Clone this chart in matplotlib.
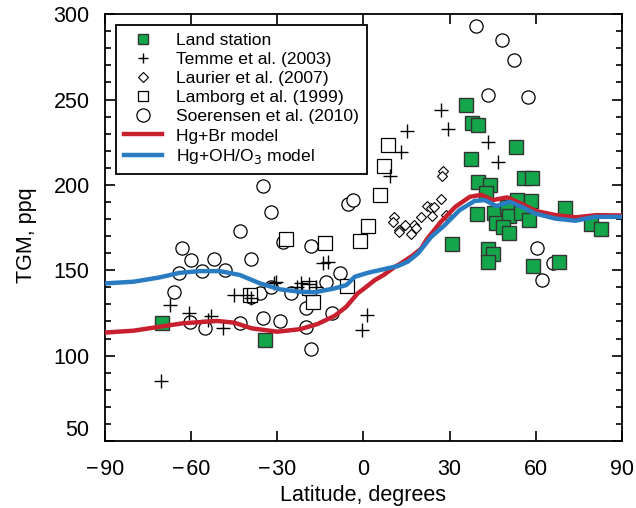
import matplotlib
matplotlib.use("Agg")
import matplotlib.pyplot as plt
from matplotlib.lines import Line2D
from matplotlib.ticker import MultipleLocator

plt.rcParams['font.family'] = ['Liberation Sans', 'DejaVu Sans']

# Land station observations
land_lat = [-70.2, -34.3, 35.8, 37.8, 39.9, 53.1, 37.6, 39.7, 44.0, 42.8, 56.0, 58.8,
            53.3, 58.3, 70.0, 39.6, 45.4, 49.8, 46.3, 50.6, 54.8, 57.6, 48.6, 50.6,
            79.3, 82.8, 30.8, 43.4, 45.2, 43.2, 59.1, 68.2]
land_tgm = [119.3, 109.1, 246.7, 236.4, 235.2, 222.0, 215.1, 201.8, 199.9, 195.0, 204.2, 204.2,
            191.1, 190.7, 186.2, 182.7, 183.7, 187.2, 177.5, 181.7, 183.3, 179.4, 175.5, 171.6,
            176.9, 174.0, 165.3, 162.4, 159.3, 155.0, 152.5, 154.6]

# Temme et al. (2003)
temme_lat = [-70.4, -67.3, -60.9, -54.0, -53.0, -48.9, -45.2, -40.5, -39.0, -31.2, -30.3,
             -23.0, -21.8, -18.9, -16.6, -14.0, -12.5, -0.6, 1.1, 9.3, 13.1, 15.3,
             27.1, 29.4, 43.2, 47.0]
temme_tgm = [85.0, 129.5, 125.0, 121.0, 123.0, 116.4, 135.5, 135.5, 133.5, 142.4, 143.3,
             140.3, 142.3, 141.9, 140.3, 154.5, 155.0, 115.0, 124.0, 205.5, 219.0, 231.7,
             243.8, 233.0, 225.2, 213.3]

# Laurier et al. (2007)
laurier_lat = [27.7, 27.3, 27.1, 22.2, 23.6, 24.5, 23.9, 20.1, 17.7, 18.3, 16.6, 14.3,
               12.2, 10.6, 10.2, 12.5, 28.8]
laurier_tgm = [208.0, 205.2, 192.0, 187.6, 186.2, 186.8, 181.7, 181.3, 176.5, 174.5, 171.2, 176.5,
               173.5, 181.3, 178.4, 172.5, 182.3]

# Lamborg et al. (1999)
lamborg_lat = [8.5, 7.3, 5.8, 1.5, -1.2, -13.5, -26.9, -5.9, -17.7, -39.5, -19.0]
lamborg_tgm = [223.3, 211.0, 193.9, 176.1, 167.1, 166.0, 168.1, 141.0, 131.5, 135.5, 139.5]

# Soerensen et al. (2010)
soer_lat = [39.3, 48.3, 52.4, 43.2, 57.4, 60.3, 66.1, 62.3,
            -35.0, -32.1, -43.1, -5.5, -3.8, -63.2, -60.1, -52.1, -39.1, -28.0, -18.1,
            -64.1, -56.2, -48.1, -8.0, -13.0, -66.1, -39.1, -36.1, -32.3, -25.1, -18.9,
            -19.9, -11.1, -60.3, -55.1, -43.1, -35.0, -29.1, -19.9, -18.1]
soer_tgm = [293.2, 284.8, 273.1, 252.6, 251.6, 162.8, 154.0, 144.3,
            199.3, 184.3, 173.1, 189.1, 191.1, 162.8, 156.0, 156.8, 156.6, 166.7, 164.2,
            148.5, 149.5, 150.1, 148.5, 143.3, 137.0, 134.5, 136.5, 140.0, 136.5, 138.4,
            127.6, 124.8, 119.5, 116.0, 119.3, 121.8, 120.4, 117.0, 103.9]

# Model zonal means
br_lat = [-90, -80, -71, -63, -51, -45, -39, -30, -22, -16, -10, -6, -2, 0, 4, 7, 11, 13,
          17, 20, 22, 27, 32, 37, 41, 45, 50, 55, 60, 67, 74, 81, 90]
br_tgm = [113.5, 114.6, 116.9, 118.9, 120.3, 119.3, 116.0, 114.0, 115.5, 118.5, 123.3, 128.6,
          136.5, 139.0, 144.3, 147.2, 152.1, 154.0, 158.5, 162.5, 168.0, 178.5, 187.2, 193.0,
          194.2, 191.1, 192.7, 189.0, 184.7, 182.3, 181.0, 182.3, 182.1]

oh_lat = [-90, -80, -71, -64, -57, -50, -43, -36, -29, -22, -17, -10, -6, -3, 1.5, 7.3, 12,
          15.4, 19, 23.6, 28, 33.5, 38.7, 42.2, 46.3, 50.9, 55, 59.7, 66.7, 73.7, 80.7, 90]
oh_tgm = [142.3, 143.3, 145.8, 148.5, 149.5, 149.5, 147.2, 142.3, 138.8, 137.4, 137.1, 139.4,
          141.3, 146.2, 148.5, 150.7, 152.5, 155.0, 159.9, 169.6, 176.0, 185.3, 190.6, 191.1,
          187.6, 190.1, 187.2, 183.3, 180.3, 179.0, 181.3, 181.3]

xticks = [-90, -60, -30, 0, 30, 60, 90]
xticklabels = ['\u2212\u200a90', '\u2212\u200a60', '\u2212\u200a30', '0', '30', '60', '90']

green = '#14a64a'
red = '#c8202f'
blue = '#2a7cc2'

fig = plt.figure(figsize=(6.36, 5.08), dpi=100)
ax = fig.add_axes([0.165, 0.132, 0.813, 0.840])

ax.plot(soer_lat, soer_tgm, 'o', ms=9.5, mfc='white', mec='black', mew=0.9, ls='none', zorder=2)
ax.plot(lamborg_lat, lamborg_tgm, 's', ms=9.5, mfc='white', mec='black', mew=0.9, ls='none', zorder=2)
ax.plot(laurier_lat, laurier_tgm, 'D', ms=5.5, mfc='white', mec='black', mew=0.8, ls='none', zorder=2)
ax.plot(temme_lat, temme_tgm, '+', ms=10, mec='black', mew=1.0, ls='none', zorder=3)
ax.plot(land_lat, land_tgm, 's', ms=10, mfc=green, mec='#333333', mew=1.0, ls='none', zorder=3)
ax.plot(br_lat, br_tgm, '-', color=red, lw=3.2, zorder=4)
ax.plot(oh_lat, oh_tgm, '-', color=blue, lw=3.2, zorder=4)

ax.set_xlim(-90, 90)
ax.set_ylim(50, 300)
ax.set_xticks(xticks)
ax.set_xticklabels(xticklabels)
ax.yaxis.set_major_locator(MultipleLocator(50))
ax.yaxis.set_minor_locator(MultipleLocator(10))
ax.tick_params(which='both', direction='in', top=True, right=True, width=1.2)
ax.tick_params(which='major', length=7, labelsize=15.5)
ax.tick_params(axis='x', which='major', pad=13)
ax.tick_params(axis='y', which='major', pad=11)
ax.tick_params(which='minor', length=4)
for s in ax.spines.values():
    s.set_linewidth(1.3)

ax.set_xlabel('Latitude, degrees', fontsize=15.5)
ax.set_ylabel('TGM, ppq', fontsize=15.5)
ax.xaxis.set_label_coords(0.5, -0.103)
ax.yaxis.set_label_coords(-0.1315, 0.482)

for lab in ax.get_yticklabels():
    if lab.get_text() == '50':
        lab.set_va('bottom')

handles = [
    Line2D([], [], ls='none', marker='s', ms=7.5, mfc=green, mec='#333333', mew=1.0),
    Line2D([], [], ls='none', marker='+', ms=7.5, mec='black', mew=1.0),
    Line2D([], [], ls='none', marker='D', ms=5, mfc='white', mec='black', mew=0.8),
    Line2D([], [], ls='none', marker='s', ms=6.5, mfc='white', mec='black', mew=0.9),
    Line2D([], [], ls='none', marker='o', ms=9.5, mfc='white', mec='black', mew=0.9),
    Line2D([], [], color=red, lw=3.2),
    Line2D([], [], color=blue, lw=3.2),
]
labels = ['Land station', 'Temme et al. (2003)', 'Laurier et al. (2007)', 'Lamborg et al. (1999)',
          'Soerensen et al. (2010)', 'Hg+Br model', 'Hg+OH/O$_3$ model']
leg = ax.legend(handles, labels, loc='upper left',
                bbox_to_anchor=(0.021, 0.975), fontsize=12.6, frameon=True, fancybox=False,
                edgecolor='black', framealpha=1, handlelength=2.2, handletextpad=0.8,
                labelspacing=0.22, borderpad=0.45, borderaxespad=0)
leg.get_frame().set_linewidth(1.3)

fig.savefig('out.png', dpi=100)
